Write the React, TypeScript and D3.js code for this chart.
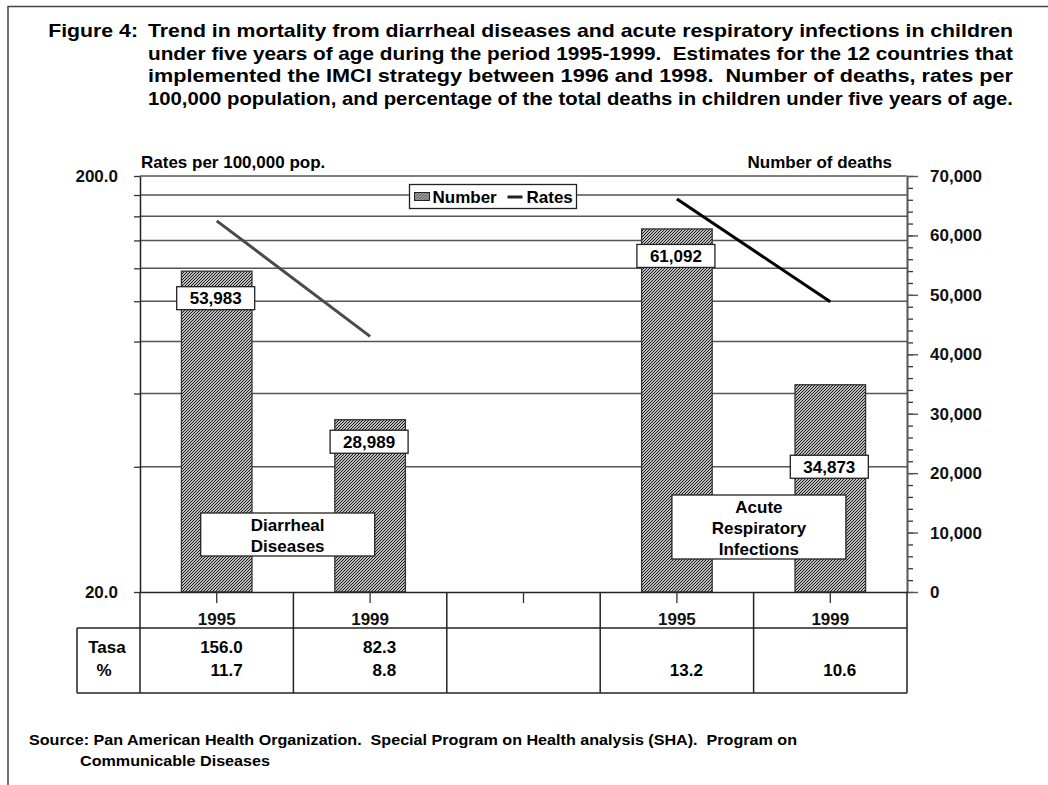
import * as d3 from "d3";
import { useEffect, useRef } from "react";

// chart values
const categories = ["1995", "1999", "", "1995", "1999"];
const deaths = [53983, 28989, null, 61092, 34873];
const diarrhealRates = [156.0, 82.3];
const ariRates = [176.0, 99.7];
const tasaRow = ["156.0", "82.3", "", "", ""];
const pctRow = ["11.7", "8.8", "", "13.2", "10.6"];
const rateTicks = [20, 40, 60, 80, 100, 120, 140, 160, 180, 200];
const deathTicks = d3.range(0, 70001, 10000);
const minorDeathTicks = d3.range(0, 70001, 2000);
const groupLabels = [
  ["Diarrheal", "Diseases"],
  ["Acute", "Respiratory", "Infections"],
];
const titleHead = "Figure 4:";
const titleLines = [
  "Trend in mortality from diarrheal diseases and acute respiratory infections in children",
  "under five years of age during the period 1995-1999.  Estimates for the 12 countries that",
  "implemented the IMCI strategy between 1996 and 1998.  Number of deaths, rates per",
  "100,000 population, and percentage of the total deaths in children under five years of age.",
];
const sourceLines = [
  "Source: Pan American Health Organization.  Special Program on Health analysis (SHA).  Program on",
  "Communicable Diseases",
];

const FONT = "'Liberation Sans', Arial, sans-serif";

export default function App() {
  const svgRef = useRef<SVGSVGElement>(null);

  useEffect(() => {
    const svg = d3.select(svgRef.current);
    svg.selectAll("*").remove();
    svg.style("font-family", FONT).style("font-weight", "bold");

    const left = 140,
      right = 907,
      top = 176,
      bottom = 592;

    const x = d3.scaleBand<number>().domain(d3.range(categories.length)).range([left, right]);
    const cx = (i: number) => x(i)! + x.bandwidth() / 2;
    const yRate = d3.scaleLog().domain([20, 200]).range([bottom, top]);
    const yDeath = d3.scaleLinear().domain([0, 70000]).range([bottom, top]);

    // hatch pattern (dark upward diagonal)
    const defs = svg.append("defs");
    const pat = defs
      .append("pattern")
      .attr("id", "hatch")
      .attr("patternUnits", "userSpaceOnUse")
      .attr("width", 3)
      .attr("height", 3);
    pat.append("rect").attr("width", 3).attr("height", 3).attr("fill", "#fff");
    pat
      .append("path")
      .attr("d", "M-1,1 L1,-1 M0,3 L3,0 M2,4 L4,2")
      .attr("stroke", "#111")
      .attr("stroke-width", 1.1);

    // page frame
    svg
      .append("path")
      .attr("d", "M8,785 L8,6.5 L1048,6.5")
      .attr("fill", "none")
      .attr("stroke", "#444")
      .attr("stroke-width", 1.5);

    // stretch a text to a width, return the factor used
    const fit = (el: SVGTextElement, width: number) => {
      const natural = el.getComputedTextLength();
      d3.select(el).attr("textLength", width).attr("lengthAdjust", "spacingAndGlyphs");
      return width / natural;
    };

    // title
    const titleY = (i: number) => 37 + i * 22.5;
    const titleEnd = 1013;
    const tLines = svg
      .append("g")
      .selectAll("text")
      .data(titleLines)
      .join("text")
      .attr("x", 148)
      .attr("y", (d, i) => titleY(i))
      .attr("font-size", 18.5)
      .style("white-space", "pre")
      .text((d) => d);
    let f1 = 1;
    tLines.each(function (d, i) {
      const f = fit(this as SVGTextElement, titleEnd - 148);
      if (i === 0) f1 = f;
    });
    const head = svg.append("text").attr("y", titleY(0)).attr("font-size", 18.5).text(titleHead);
    const headW = (head.node() as SVGTextElement).getComputedTextLength() * f1;
    head.attr("x", 138 - headW).attr("textLength", headW).attr("lengthAdjust", "spacingAndGlyphs");

    // gridlines
    svg
      .append("g")
      .selectAll("line")
      .data(rateTicks.slice(1))
      .join("line")
      .attr("x1", left)
      .attr("x2", right)
      .attr("y1", (d) => yRate(d))
      .attr("y2", (d) => yRate(d))
      .attr("stroke", "#555")
      .attr("stroke-width", 1.4);

    // left axis
    const gl = svg
      .append("g")
      .attr("transform", `translate(${left},0)`)
      .call(
        d3
          .axisLeft(yRate)
          .tickValues(rateTicks)
          .tickSize(6)
          .tickSizeOuter(0)
          .tickPadding(16)
          .tickFormat((d: any) => (d === 20 || d === 200 ? d3.format(".1f")(d) : ""))
      );
    gl.select(".domain").attr("stroke", "#222").attr("stroke-width", 1.5);
    gl.selectAll(".tick line").attr("stroke", "#333").attr("stroke-width", 1.3);
    gl.selectAll("text").attr("font-size", 17).attr("fill", "#111").attr("font-family", FONT);

    // right axis (minor + major)
    const grMinor = svg
      .append("g")
      .attr("transform", `translate(${right},0)`)
      .call(d3.axisRight(yDeath).tickValues(minorDeathTicks).tickSize(6).tickSizeOuter(0).tickFormat(() => ""));
    grMinor.select(".domain").remove();
    grMinor.selectAll(".tick line").attr("stroke", "#333").attr("stroke-width", 1.3);
    const gr = svg
      .append("g")
      .attr("transform", `translate(${right},0)`)
      .call(
        d3
          .axisRight(yDeath)
          .tickValues(deathTicks)
          .tickSize(11)
          .tickSizeOuter(0)
          .tickPadding(12)
          .tickFormat(d3.format(",") as any)
      );
    gr.select(".domain").attr("stroke", "#555").attr("stroke-width", 2);
    gr.selectAll(".tick line").attr("stroke", "#555").attr("stroke-width", 1.4);
    gr.selectAll("text").attr("font-size", 17).attr("fill", "#111").attr("font-family", FONT);

    // axis titles
    svg.append("text").attr("x", 141).attr("y", 168).attr("font-size", 17).text("Rates per 100,000 pop.");
    svg
      .append("text")
      .attr("x", 892)
      .attr("y", 168)
      .attr("text-anchor", "end")
      .attr("font-size", 17)
      .text("Number of deaths");

    // bars
    const barW = x.bandwidth() * 0.46;
    const barData = deaths.map((v, i) => ({ v, i })).filter((d) => d.v !== null) as { v: number; i: number }[];
    svg
      .append("g")
      .selectAll("rect")
      .data(barData)
      .join("rect")
      .attr("x", (d) => cx(d.i) - barW / 2)
      .attr("width", barW)
      .attr("y", (d) => yDeath(d.v))
      .attr("height", (d) => bottom - yDeath(d.v))
      .attr("fill", "url(#hatch)")
      .attr("stroke", "#333")
      .attr("stroke-width", 1.3);

    // rate lines
    const line = d3
      .line<{ i: number; r: number }>()
      .x((d) => cx(d.i))
      .y((d) => yRate(d.r));
    svg
      .append("path")
      .attr("d", line(diarrhealRates.map((r, k) => ({ i: k, r }))))
      .attr("fill", "none")
      .attr("stroke", "#4a4a4a")
      .attr("stroke-width", 3);
    svg
      .append("path")
      .attr("d", line(ariRates.map((r, k) => ({ i: k + 3, r }))))
      .attr("fill", "none")
      .attr("stroke", "#000")
      .attr("stroke-width", 3);

    // value labels
    const labelOffset = [27, 22, 0, 27, 82];
    const lg = svg
      .append("g")
      .selectAll("g")
      .data(barData)
      .join("g")
      .attr("transform", (d) => `translate(${cx(d.i) - 1},${yDeath(d.v) + labelOffset[d.i]})`);
    lg.append("rect")
      .attr("x", -39)
      .attr("y", -11.5)
      .attr("width", 78)
      .attr("height", 23)
      .attr("fill", "#fff")
      .attr("stroke", "#222")
      .attr("stroke-width", 1.3);
    lg.append("text")
      .attr("text-anchor", "middle")
      .attr("y", 6)
      .attr("font-size", 17)
      .text((d) => d3.format(",")(d.v));

    // legend
    const leg = svg.append("g").attr("transform", "translate(409.5,184.5)");
    leg.append("rect").attr("width", 167).attr("height", 24).attr("fill", "#fff").attr("stroke", "#222").attr("stroke-width", 1.3);
    leg.append("rect").attr("x", 5).attr("y", 8).attr("width", 15).attr("height", 8).attr("fill", "url(#hatch)").attr("stroke", "#222");
    leg.append("text").attr("x", 23).attr("y", 18.5).attr("font-size", 17).text("Number");
    leg.append("line").attr("x1", 98).attr("x2", 113).attr("y1", 12.5).attr("y2", 12.5).attr("stroke", "#222").attr("stroke-width", 3);
    leg.append("text").attr("x", 117).attr("y", 18.5).attr("font-size", 17).text("Rates");

    // group label boxes
    const groupBox = [
      { x: cx(0) - 16, y: 513, w: 174, h: 43 },
      { x: cx(3) - 5, y: 495, w: 174, h: 64 },
    ];
    groupLabels.forEach((lines, g) => {
      const b = groupBox[g];
      svg
        .append("rect")
        .attr("x", b.x)
        .attr("y", b.y)
        .attr("width", b.w)
        .attr("height", b.h)
        .attr("fill", "#fff")
        .attr("stroke", "#222")
        .attr("stroke-width", 1.3);
      svg
        .append("g")
        .selectAll("text")
        .data(lines)
        .join("text")
        .attr("x", b.x + b.w / 2)
        .attr("y", (d, k) => b.y + 18 + k * 21)
        .attr("text-anchor", "middle")
        .attr("font-size", 17)
        .text((d) => d);
    });

    // bottom category axis
    const gb = svg
      .append("g")
      .attr("transform", `translate(0,${bottom})`)
      .call(
        d3
          .axisBottom(x)
          .tickSize(11)
          .tickSizeOuter(0)
          .tickPadding(10)
          .tickFormat((i: any) => categories[i])
      );
    gb.select(".domain").attr("stroke", "#222").attr("stroke-width", 1.5);
    gb.selectAll(".tick line").attr("stroke", "#333").attr("stroke-width", 1.3);
    gb.selectAll("text").attr("font-size", 17).attr("fill", "#111").attr("font-family", FONT);

    // data table lines
    const row1 = 628,
      row2 = 693,
      tableLeft = 77;
    const tl = svg.append("g").attr("stroke", "#222").attr("stroke-width", 1.5);
    d3.range(categories.length + 1).forEach((k) => {
      const xx = k === categories.length ? right : x(k)!;
      tl.append("line").attr("x1", xx).attr("x2", xx).attr("y1", bottom).attr("y2", row2);
    });
    tl.append("line").attr("x1", tableLeft).attr("x2", tableLeft).attr("y1", row1).attr("y2", row2);
    tl.append("line").attr("x1", tableLeft).attr("x2", right).attr("y1", row1).attr("y2", row1);
    tl.append("line").attr("x1", tableLeft).attr("x2", right).attr("y1", row2).attr("y2", row2);

    svg.append("text").attr("x", 107).attr("y", 653).attr("text-anchor", "middle").attr("font-size", 17).text("Tasa");
    svg.append("text").attr("x", 104).attr("y", 676).attr("text-anchor", "middle").attr("font-size", 17).text("%");
    svg
      .append("g")
      .selectAll("text")
      .data(tasaRow)
      .join("text")
      .attr("x", (d, i) => cx(i) + 26)
      .attr("y", 653)
      .attr("text-anchor", "end")
      .attr("font-size", 17)
      .text((d) => d);
    svg
      .append("g")
      .selectAll("text")
      .data(pctRow)
      .join("text")
      .attr("x", (d, i) => cx(i) + 26)
      .attr("y", 676)
      .attr("text-anchor", "end")
      .attr("font-size", 17)
      .text((d) => d);

    // source
    const src = svg
      .append("g")
      .selectAll("text")
      .data(sourceLines)
      .join("text")
      .attr("x", (d, i) => (i === 0 ? 29 : 80))
      .attr("y", (d, i) => 745 + i * 21)
      .attr("font-size", 15.5)
      .style("white-space", "pre")
      .text((d) => d);
    const srcNodes = src.nodes() as SVGTextElement[];
    const fs = fit(srcNodes[0], 797 - 29);
    fit(srcNodes[1], srcNodes[1].getComputedTextLength() * fs);
  }, []);

  return (
    <svg
      ref={svgRef}
      width={1048}
      height={785}
      style={{ position: "absolute", left: 0, top: 0, background: "#fff" }}
    ></svg>
  );
}
